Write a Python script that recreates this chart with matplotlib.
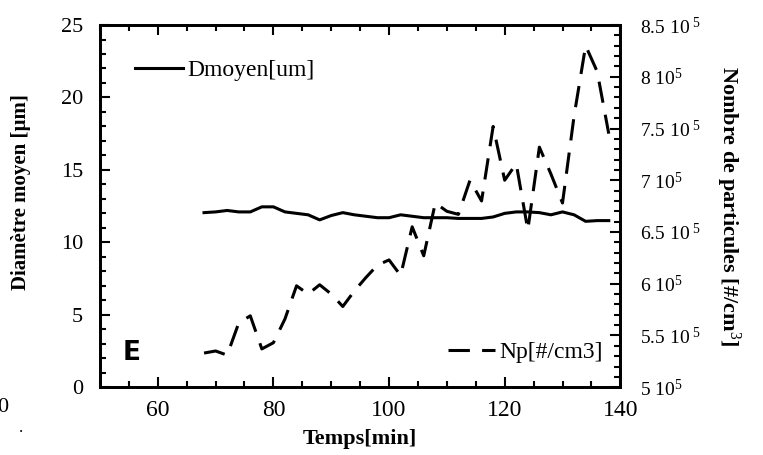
import numpy as np
import matplotlib.pyplot as plt
from matplotlib.ticker import MultipleLocator, FixedLocator

plt.rcParams['font.family'] = ['Liberation Serif', 'DejaVu Serif']
plt.rcParams['mathtext.fontset'] = 'custom'
plt.rcParams['mathtext.rm'] = 'Liberation Serif'
plt.rcParams['mathtext.it'] = 'Liberation Serif'
plt.rcParams['mathtext.bf'] = 'Liberation Serif:bold'

# time [min]
temps = [68, 70, 72, 74, 76, 78, 80, 82, 84, 86, 88, 90, 92, 94, 96, 98, 100, 102,
         104, 106, 108, 110, 112, 114, 116, 118, 120, 122, 124, 126, 128, 130, 132,
         134, 136, 138]

# mean diameter [um]
dmoyen = [12.05, 12.1, 12.2, 12.1, 12.1, 12.45, 12.45, 12.1, 12.0, 11.9, 11.55, 11.85,
          12.05, 11.9, 11.8, 11.7, 11.7, 11.9, 11.8, 11.7, 11.7, 11.7, 11.65, 11.65,
          11.65, 11.75, 12.0, 12.1, 12.1, 12.05, 11.9, 12.1, 11.9, 11.45, 11.5, 11.5]

# particle number [#/cm3]
np_part = [533e3, 535e3, 531e3, 562e3, 569e3, 537e3, 543e3, 566e3, 598e3, 590e3,
           599e3, 590e3, 578e3, 593e3, 606e3, 618e3, 623e3, 608e3, 655e3, 627e3,
           678e3, 670e3, 667e3, 700e3, 680e3, 752e3, 700e3, 716e3, 652e3, 732e3,
           706e3, 678e3, 762e3, 830e3, 805e3, 745e3]

right_ticks = [5e5, 5.5e5, 6e5, 6.5e5, 7e5, 7.5e5, 8e5, 8.5e5]
right_labels = [r'5 10$^5$', r'5.5 10$^{\ 5}$', r'6 10$^5$', r'6.5 10$^{\ 5}$',
                r'7 10$^5$', r'7.5 10$^{\ 5}$', r'8 10$^5$', r'8.5 10$^{\ 5}$']

fig = plt.figure(figsize=(7.63, 4.55), dpi=100)
ax = fig.add_axes([0.131, 0.149, 0.682, 0.796])
ax2 = ax.twinx()

l1, = ax.plot(temps, dmoyen, color='black', lw=2.2, label='Dmoyen[um]')
l2, = ax2.plot(temps, np_part, color='black', lw=2.2, dashes=(7, 4),
               label='Np[#/cm3]')

ax.set_xlim(50, 140)
ax.set_ylim(0, 25)
ax2.set_ylim(5e5, 8.5e5)

ax.xaxis.set_major_locator(FixedLocator([60, 80, 100, 120, 140]))
ax.xaxis.set_minor_locator(MultipleLocator(5))
ax.yaxis.set_major_locator(MultipleLocator(5))
ax.yaxis.set_minor_locator(MultipleLocator(1))
ax2.yaxis.set_major_locator(FixedLocator(right_ticks))
ax2.yaxis.set_minor_locator(MultipleLocator(1e4))
ax2.set_yticklabels(right_labels)

ax.tick_params(axis='both', which='both', direction='in', top=True, width=1.5)
ax.tick_params(axis='both', which='major', length=7)
ax.tick_params(axis='both', which='minor', length=4)
ax.tick_params(axis='x', labelsize=17, pad=9)
ax.tick_params(axis='y', labelsize=16, pad=12, right=False)
ax2.tick_params(axis='y', which='both', direction='in', width=1.5, labelsize=14)
ax2.tick_params(axis='y', which='major', length=7, pad=14)
ax2.tick_params(axis='y', which='minor', length=4)

for a in (ax, ax2):
    for s in a.spines.values():
        s.set_linewidth(2)

ax.set_xlabel('Temps[min]', fontsize=16, fontweight='bold', labelpad=6)
ax.set_ylabel('Diamètre moyen [µm]', fontsize=15, fontweight='bold')
ax.yaxis.set_label_coords(-0.132, 0.54)
ax2.set_ylabel(r'Nombre de particules [#/cm$^{3}$]', fontsize=16,
               fontweight='bold', rotation=-90, labelpad=30)

leg1 = ax.legend(handles=[l1], loc='upper left', frameon=False, fontsize=17,
                 handlelength=2.0, handletextpad=0.2, borderaxespad=0,
                 bbox_to_anchor=(0.05, 0.93))
leg2 = ax2.legend(handles=[l2], loc='lower right', frameon=False, fontsize=17,
                  handlelength=2.0, handletextpad=0.2, borderaxespad=0,
                  bbox_to_anchor=(0.985, 0.04))

ax.text(0.044, 0.075, 'E', transform=ax.transAxes, fontsize=19, fontweight='bold',
        family='DejaVu Sans')
fig.text(0.003, 0.095, '0', fontsize=16, ha='center')
fig.text(0.028, 0.05, '.', fontsize=12, ha='center')

fig.savefig('out.png', dpi=100)
